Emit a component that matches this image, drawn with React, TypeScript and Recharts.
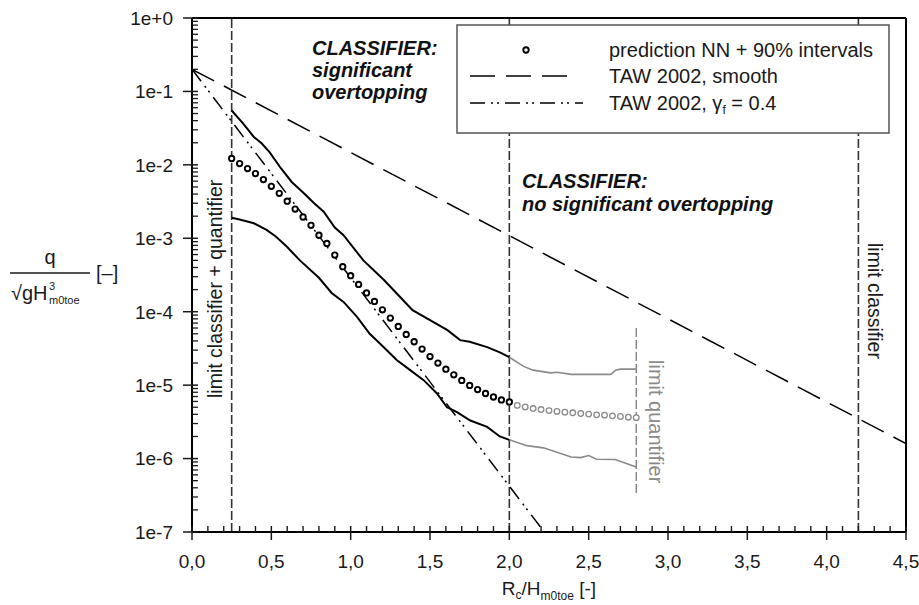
import React from 'react';
import {
  ComposedChart, Line, Scatter, XAxis, YAxis, ReferenceLine, Customized,
} from 'recharts';

const FONT = "Arial, 'Liberation Sans', Helvetica, sans-serif";
const W = 919;
const H = 605;
const AXIS_X = 192; // left edge of plot (YAxis width)
const INK = '#1a1a1a';
const GREY = '#8a8a8a';

// ---- data ----
const tawSmoothX = [0, 4.5];
const tawSmoothQ = [0.2, 1.6e-6];

const tawGammaX = [0, 2.22];
const tawGammaQ = [0.2, 1e-7];

const predBlackX = [
  0.25, 0.30, 0.35, 0.40, 0.45, 0.50, 0.55, 0.60, 0.65, 0.70, 0.75, 0.80,
  0.85, 0.90, 0.95, 1.00, 1.05, 1.10, 1.15, 1.20, 1.25, 1.30, 1.35, 1.40,
  1.45, 1.50, 1.55, 1.60, 1.65, 1.70, 1.75, 1.80, 1.85, 1.90, 1.95, 2.00,
];
const predBlackQ = [
  1.22e-2, 1.04e-2, 8.9e-3, 7.6e-3, 6.3e-3, 5.1e-3, 4.1e-3, 3.2e-3, 2.5e-3, 1.95e-3, 1.5e-3, 1.1e-3,
  8.5e-4, 5.9e-4, 4.1e-4, 3.1e-4, 2.35e-4, 1.8e-4, 1.38e-4, 1.06e-4, 8.2e-5, 6.3e-5, 4.9e-5, 3.9e-5,
  3.1e-5, 2.45e-5, 2.0e-5, 1.65e-5, 1.38e-5, 1.16e-5, 9.9e-6, 8.7e-6, 7.7e-6, 6.9e-6, 6.3e-6, 5.9e-6,
];
const predGreyX = [
  2.00, 2.05, 2.10, 2.15, 2.20, 2.25, 2.30, 2.35, 2.40, 2.45, 2.50, 2.55,
  2.60, 2.65, 2.70, 2.75, 2.80,
];
const predGreyQ = [
  5.9e-6, 5.3e-6, 5.05e-6, 4.8e-6, 4.65e-6, 4.5e-6, 4.38e-6, 4.29e-6, 4.2e-6, 4.11e-6, 4.03e-6, 3.94e-6,
  3.9e-6, 3.82e-6, 3.74e-6, 3.66e-6, 3.6e-6,
];

const upperBlackX = [0.25, 0.32, 0.39, 0.44, 0.49, 0.56, 0.63, 0.70, 0.77, 0.83, 0.90, 0.955, 1.08, 1.21, 1.31, 1.39, 1.50, 1.61, 1.69, 1.75, 1.86, 1.94, 2.0];
const upperBlackQ = [0.055, 0.037, 0.024, 0.0195, 0.0148, 9.0e-3, 5.8e-3, 4.2e-3, 3.0e-3, 2.3e-3, 1.4e-3, 1.1e-3, 5.0e-4, 2.7e-4, 1.6e-4, 1.05e-4, 7.7e-5, 5.6e-5, 4.1e-5, 3.9e-5, 3.3e-5, 2.8e-5, 2.4e-5];
const upperGreyX = [2.0, 2.09, 2.15, 2.26, 2.30, 2.39, 2.64, 2.67, 2.70, 2.8];
const upperGreyQ = [2.4e-5, 1.8e-5, 1.6e-5, 1.47e-5, 1.5e-5, 1.4e-5, 1.4e-5, 1.6e-5, 1.65e-5, 1.65e-5];

const lowerBlackX = [0.25, 0.30, 0.39, 0.47, 0.53, 0.60, 0.68, 0.80, 0.88, 0.955, 1.04, 1.12, 1.207, 1.29, 1.375, 1.46, 1.544, 1.607, 1.67, 1.754, 1.86, 1.94, 2.0];
const lowerBlackQ = [1.9e-3, 1.8e-3, 1.6e-3, 1.3e-3, 1.05e-3, 7.6e-4, 5.0e-4, 2.9e-4, 1.8e-4, 1.36e-4, 8.5e-5, 5.0e-5, 3.3e-5, 2.2e-5, 1.6e-5, 1.17e-5, 7.7e-6, 5.0e-6, 4.3e-6, 3.3e-6, 2.7e-6, 2.0e-6, 1.8e-6];
const lowerGreyX = [2.0, 2.11, 2.215, 2.39, 2.45, 2.50, 2.55, 2.667, 2.8];
const lowerGreyQ = [1.8e-6, 1.5e-6, 1.4e-6, 1.05e-6, 1.03e-6, 1.1e-6, 9.8e-7, 9.7e-7, 7.7e-7];

const limitLinesX = [0.25, 2.0, 4.2];
const limitQuantX = 2.8;
const limitQuantQ = [6e-5, 3.4e-7];

const xMajorTicks = [0, 0.5, 1.0, 1.5, 2.0, 2.5, 3.0, 3.5, 4.0, 4.5];
const yMajorTicks = [1e-7, 1e-6, 1e-5, 1e-4, 1e-3, 1e-2, 1e-1, 1];
const yMajorLabels = ['1e-7', '1e-6', '1e-5', '1e-4', '1e-3', '1e-2', '1e-1', '1e+0'];

const zip = (xs: number[], qs: number[]) => xs.map((x, i) => ({ x, y: qs[i] }));

const tawSmooth = zip(tawSmoothX, tawSmoothQ);
const tawGamma = zip(tawGammaX, tawGammaQ);
const predBlack = zip(predBlackX, predBlackQ);
const predGrey = zip(predGreyX, predGreyQ);
const upperBlack = zip(upperBlackX, upperBlackQ);
const upperGrey = zip(upperGreyX, upperGreyQ);
const lowerBlack = zip(lowerBlackX, lowerBlackQ);
const lowerGrey = zip(lowerGreyX, lowerGreyQ);

// minor tick positions
const xMinorTicks: number[] = [];
for (let i = 1; i < 45; i++) {
  if (i % 5 !== 0) xMinorTicks.push(i / 10);
}
const yMinorTicks: number[] = [];
for (let k = -7; k < 0; k++) {
  for (let m = 2; m <= 9; m++) yMinorTicks.push(m * Math.pow(10, k));
}
const xTicks = [...xMajorTicks, ...xMinorTicks].sort((a, b) => a - b);
const yTicks = [...yMajorTicks, ...yMinorTicks].sort((a, b) => a - b);

const isXMajor = (v: number) => xMajorTicks.some((t) => Math.abs(t - v) < 1e-6);
const yMajorIndex = (v: number) => yMajorTicks.findIndex((t) => Math.abs(Math.log10(t) - Math.log10(v)) < 1e-6);

const XTick = (props: any) => {
  const { x, y, payload } = props;
  const v = payload.value;
  if (isXMajor(v)) {
    return (
      <g>
        <line x1={x} x2={x} y1={y - 6} y2={y + 8} stroke={INK} strokeWidth={1.5} />
        <text x={x} y={y + 36} textAnchor="middle" fontFamily={FONT} fontSize={19} fill={INK}>
          {v.toFixed(1).replace('.', ',')}
        </text>
      </g>
    );
  }
  return <line x1={x} x2={x} y1={y - 6} y2={y} stroke={INK} strokeWidth={1.4} />;
};

const YTick = (props: any) => {
  const { x, y, payload } = props;
  const idx = yMajorIndex(payload.value);
  if (idx >= 0) {
    return (
      <g>
        <line x1={x - 9} x2={x + 6} y1={y} y2={y} stroke={INK} strokeWidth={1.5} />
        <text x={x - 19} y={y} dy="0.36em" textAnchor="end" fontFamily={FONT} fontSize={19} fill={INK}>
          {yMajorLabels[idx]}
        </text>
      </g>
    );
  }
  return <line x1={x} x2={x + 6} y1={y} y2={y} stroke={INK} strokeWidth={1.3} />;
};

const BlackCircle = (props: any) => {
  const { cx, cy } = props;
  if (cx == null || cy == null) return null;
  return <circle cx={cx} cy={cy} r={2.7} fill="#fff" stroke="#000" strokeWidth={1.9} />;
};
const GreyCircle = (props: any) => {
  const { cx, cy } = props;
  if (cx == null || cy == null) return null;
  return <circle cx={cx} cy={cy} r={2.8} fill="#fff" stroke={GREY} strokeWidth={1.3} />;
};

const SMOOTH_DASH = '25 11';
const GAMMA_DASH = '15 6 2 4 2 6';
const LIMIT_DASH = '9 3';

const Overlay = () => (
  <g fontFamily={FONT}>
    {/* annotations */}
    <g fontWeight="bold" fontStyle="italic" fontSize={20} fill="#111">
      <text x={312} y={55}>CLASSIFIER:</text>
      <text x={312} y={77}>significant</text>
      <text x={312} y={99}>overtopping</text>
      <text x={522} y={188}>CLASSIFIER:</text>
      <text x={522} y={211}>no significant overtopping</text>
    </g>
    <text transform="translate(222,398) rotate(-90)" fontSize={19.5} fill={INK}>limit classifier + quantifier</text>
    <text transform="translate(868,243) rotate(90)" fontSize={19.5} fill={INK}>limit classifier</text>
    <text transform="translate(649,360) rotate(90)" fontSize={20} fill={GREY}>limit quantifier</text>

    {/* y-axis title */}
    <g fill={INK}>
      <text x={50} y={264} textAnchor="middle" fontSize={20}>q</text>
      <line x1={10} x2={90} y1={273} y2={273} stroke={INK} strokeWidth={1.3} />
      <text x={11} y={300} fontSize={20}>√gH</text>
      <text x={49} y={290} fontSize={11}>3</text>
      <text x={49} y={304} fontSize={11}>m0toe</text>
      <text x={96} y={280} fontSize={20}>[–]</text>
    </g>

    {/* x-axis title */}
    <text x={549} y={595} textAnchor="middle" fontSize={19} fill={INK}>
      R<tspan dy={4} fontSize={12}>c</tspan><tspan dy={-4}>/H</tspan><tspan dy={5} fontSize={12}>m0toe</tspan><tspan dy={-5}> [-]</tspan>
    </text>
  </g>
);

// Legend drawn on its own layer above the plot (it hides the limit lines behind it)
const LegendBox = () => (
  <svg width={W} height={H} style={{ position: 'absolute', left: 0, top: 0, pointerEvents: 'none' }}>
    <g fontFamily={FONT}>
      <rect x={457} y={25} width={432} height={108} fill="#fff" stroke="#555" strokeWidth={1.5} />
      <circle cx={526} cy={50} r={2.7} fill="#fff" stroke="#000" strokeWidth={1.9} />
      <line x1={470} x2={570} y1={76} y2={76} stroke="#000" strokeWidth={1.5} strokeDasharray={SMOOTH_DASH} />
      <line x1={470} x2={583} y1={103} y2={103} stroke="#000" strokeWidth={1.5} strokeDasharray={GAMMA_DASH} />
      <g fontSize={20} fill={INK}>
        <text x={609} y={57}>prediction NN + 90% intervals</text>
        <text x={609} y={83}>TAW 2002, smooth</text>
        <text x={609} y={110}>
          TAW 2002, γ<tspan dy={4} fontSize={12}>f</tspan><tspan dy={-4}> = 0.4</tspan>
        </text>
      </g>
    </g>
  </svg>
);

export default function App() {
  return (
    <div style={{ position: 'absolute', left: 0, top: 0, width: W, height: H, background: '#fff' }}>
      <ComposedChart width={W} height={H} margin={{ top: 18, right: 13, bottom: 0, left: 0 }}>
        <XAxis
          dataKey="x"
          type="number"
          domain={[0, 4.5]}
          ticks={xTicks}
          interval={0}
          allowDataOverflow
          height={73}
          tickSize={0}
          tickMargin={0}
          tickLine={false}
          tick={<XTick />}
          axisLine={{ stroke: '#000', strokeWidth: 2 }}
        />
        <YAxis
          dataKey="y"
          type="number"
          scale="log"
          domain={[1e-7, 1]}
          ticks={yTicks}
          interval={0}
          allowDataOverflow
          width={AXIS_X}
          tickSize={0}
          tickMargin={0}
          tickLine={false}
          tick={<YTick />}
          axisLine={{ stroke: '#000', strokeWidth: 2 }}
        />
        <ReferenceLine y={1} stroke="#000" strokeWidth={2} />
        <ReferenceLine x={4.5} stroke="#000" strokeWidth={2} />
        {limitLinesX.map((lx) => (
          <ReferenceLine key={lx} x={lx} stroke="#333" strokeWidth={1.6} strokeDasharray={LIMIT_DASH} />
        ))}
        <ReferenceLine
          segment={[{ x: limitQuantX, y: limitQuantQ[0] }, { x: limitQuantX, y: limitQuantQ[1] }]}
          stroke={GREY}
          strokeWidth={1.5}
          strokeDasharray={LIMIT_DASH}
        />
        <Line data={tawSmooth} dataKey="y" type="linear" stroke="#000" strokeWidth={1.5} strokeDasharray={SMOOTH_DASH} dot={false} isAnimationActive={false} />
        <Line data={tawGamma} dataKey="y" type="linear" stroke="#000" strokeWidth={1.5} strokeDasharray={GAMMA_DASH} dot={false} isAnimationActive={false} />
        <Line data={upperBlack} dataKey="y" type="linear" stroke="#000" strokeWidth={2} dot={false} isAnimationActive={false} />
        <Line data={lowerBlack} dataKey="y" type="linear" stroke="#000" strokeWidth={2} dot={false} isAnimationActive={false} />
        <Line data={upperGrey} dataKey="y" type="linear" stroke={GREY} strokeWidth={1.6} dot={false} isAnimationActive={false} />
        <Line data={lowerGrey} dataKey="y" type="linear" stroke={GREY} strokeWidth={1.6} dot={false} isAnimationActive={false} />
        <Scatter data={predGrey} dataKey="y" shape={<GreyCircle />} isAnimationActive={false} />
        <Scatter data={predBlack} dataKey="y" shape={<BlackCircle />} isAnimationActive={false} />
        <Customized component={<Overlay />} />
      </ComposedChart>
      <LegendBox />
    </div>
  );
}
